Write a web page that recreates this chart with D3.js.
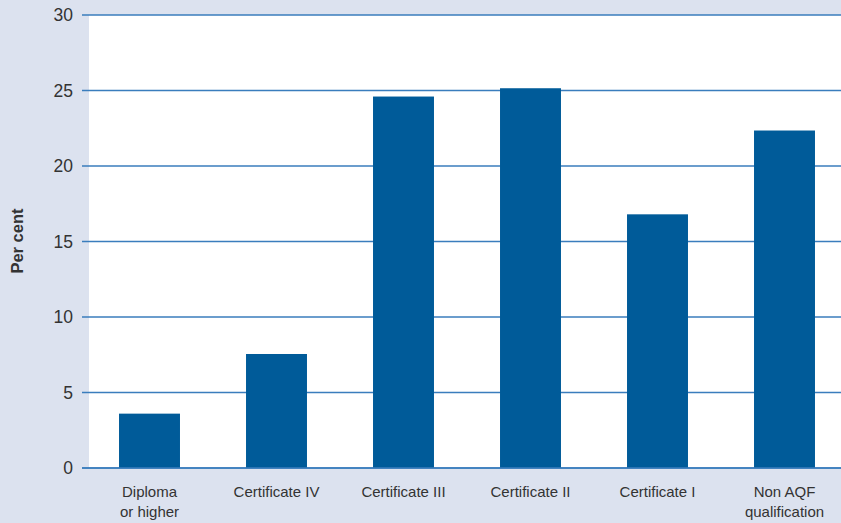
<!DOCTYPE html>
<html><head><meta charset="utf-8">
<script src="https://cdn.jsdelivr.net/npm/d3@7"></script>
<style>
html,body{margin:0;padding:0;background:#dce2ef;}
svg{display:block;}
text{font-family:"Liberation Sans Narrow","Arial Narrow","Liberation Sans",sans-serif;fill:#333;}
</style></head>
<body>
<svg id="chart" width="841" height="523"></svg>
<script>
const categories = [["Diploma","or higher"],["Certificate IV"],["Certificate III"],["Certificate II"],["Certificate I"],["Non AQF","qualification"]];
const values = [3.6, 7.55, 24.6, 25.15, 16.8, 22.35];
const yTicks = [0,5,10,15,20,25,30];
const yLabel = "Per cent";

(function(){
const W = 841, H = 523;
const svg = d3.select("#chart");
const plotLeft = 89, plotRight = 841, plotTop = 15, plotBottom = 468;

svg.append("rect").attr("width",W).attr("height",H).attr("fill","#dce2ef");
svg.append("rect").attr("x",plotLeft).attr("y",plotTop).attr("width",plotRight-plotLeft).attr("height",plotBottom-plotTop).attr("fill","#ffffff");

const keys = categories.map(c=>c.join(" "));
const x = d3.scaleBand().domain(keys).range([86,848]).paddingInner(0.52).paddingOuter(0.26);
const y = d3.scaleLinear().domain([0,30]).range([plotBottom, plotTop]);

svg.append("g").selectAll("line").data(yTicks).join("line")
  .attr("x1",82).attr("x2",W)
  .attr("y1",d=>y(d)).attr("y2",d=>y(d))
  .attr("stroke","#3a7dbd").attr("stroke-width",1.5);

svg.append("g").selectAll("text").data(yTicks).join("text")
  .attr("x",73).attr("y",d=>y(d)).attr("dy","0.36em")
  .attr("text-anchor","end").attr("font-size",17.5).text(d=>d);

svg.append("g").selectAll("rect").data(values).join("rect")
  .attr("x",(d,i)=>x(keys[i])).attr("width",x.bandwidth())
  .attr("y",d=>y(d)).attr("height",d=>y(0)-y(d))
  .attr("fill","#005b99");

svg.append("line").attr("x1",82).attr("x2",W).attr("y1",y(0)).attr("y2",y(0))
  .attr("stroke","#3a7dbd").attr("stroke-width",1.5);

const cl = svg.append("g").selectAll("text").data(categories).join("text")
  .attr("text-anchor","middle").attr("font-size",15)
  .attr("transform",(d,i)=>`translate(${x(keys[i])+x.bandwidth()/2},497)`);
cl.selectAll("tspan").data(d=>d).join("tspan")
  .attr("x",0).attr("dy",(d,i)=>i===0?0:20).text(d=>d);

svg.append("text").attr("transform","translate(23,241) rotate(-90)")
  .attr("text-anchor","middle").attr("font-size",16.5).attr("font-weight","bold")
  .style("font-family","'Liberation Sans',Arial,sans-serif")
  .attr("fill","#222").text(yLabel);
})();
</script>
</body></html>
